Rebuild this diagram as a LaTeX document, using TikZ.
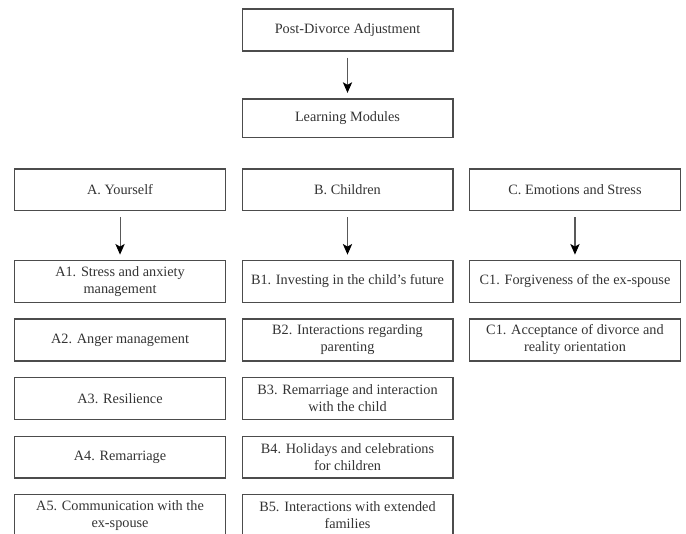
\documentclass[tikz,border=0pt]{standalone}
\usepackage{fontspec}
\setmainfont{Liberation Serif}
\usetikzlibrary{positioning,arrows.meta}

\begin{document}
\begin{tikzpicture} [
	x=0.75pt,y=-0.75pt,
	text centered,
	node distance=11.6pt,
	font=\fontsize{10.7}{12.75}\selectfont,
	nbox/.style={
		rectangle,minimum width=158pt,minimum height=31.3pt,
		draw=black!70,line width=1pt,text=black!80,align=center
	},
	ndown/.style={
		draw=black!65,line width=0.8pt,
		-{Stealth[length=8pt,width=7pt,inset=2pt,black]},
		shorten <=4.5pt,shorten >=4pt
	}
]
\useasboundingbox (0,0) rectangle (686,533);
\clip (0,0) rectangle (686,533);
\node [nbox]	(adjustment) at (347.5,30)	{Post-Divorce Adjustment};
\node [nbox,minimum height=29pt]	(modules)[below=35pt of adjustment]	{Learning Modules};
\node [nbox]	(children)[below=22.5pt of modules]	{B. Children};
\node [nbox]	(yourself)[left=of children]	{A. Yourself};
\node [nbox]	(emotions)[right=of children]	{C. Emotions and Stress};
% column A
\node [nbox]	(stress)[below=36.5pt of yourself]	{A1. Stress and anxiety\\ management};
\node [nbox]	(anger)[below=of stress]	{A2. Anger management};
\node [nbox]	(resilience)[below=of anger]	{A3. Resilience};
\node [nbox]	(remarriage)[below=of resilience]	{A4. Remarriage};
\node [nbox]	(communication)[below=of remarriage]	{A5. Communication with the\\ ex-spouse};
% column B
\node [nbox]	(future)[below=36.5pt of children]	{B1. Investing in the child's future};
\node [nbox]	(parenting)[below=of future]	{B2. Interactions regarding\\ parenting};
\node [nbox]	(interaction)[below=of parenting]	{B3. Remarriage and interaction\\ with the child};
\node [nbox]	(holidays)[below=of interaction]	{B4. Holidays and celebrations\\ for children};
\node [nbox]	(families)[below=of holidays]	{B5. Interactions with extended\\ families};
% column C
\node [nbox]	(forgiveness)[below=36.5pt of emotions]	{C1. Forgiveness of the ex-spouse};
\node [nbox]	(acceptance)[below=of forgiveness]	{C1. Acceptance of divorce and\\ reality orientation};
\draw [ndown]	(adjustment) -- (modules);
\draw [ndown]	(yourself) -- (stress);
\draw [ndown]	(children) -- (future);
\draw [ndown]	(emotions) -- (forgiveness);
\end{tikzpicture}
\end{document}
